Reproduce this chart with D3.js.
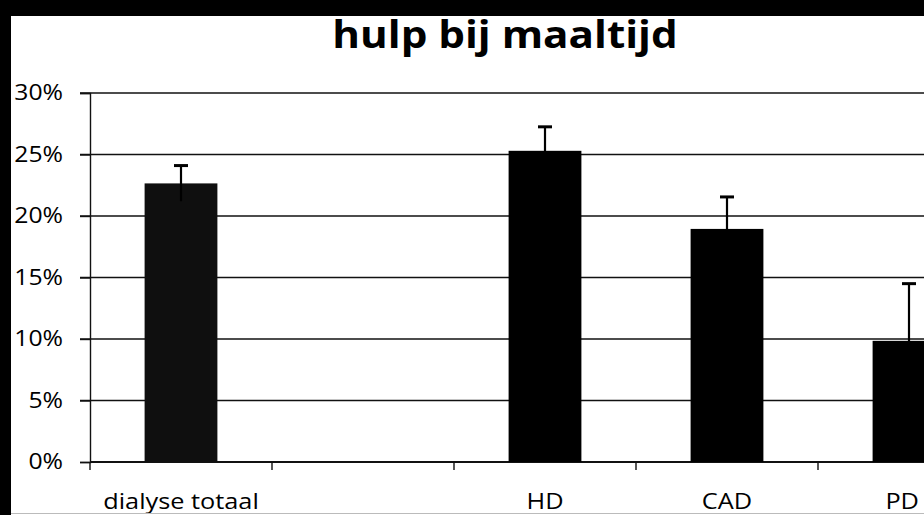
<!DOCTYPE html>
<html>
<head>
<meta charset="utf-8">
<script src="https://cdn.jsdelivr.net/npm/d3@7"></script>
<style>
  html, body { margin: 0; padding: 0; background: #fff; }
  svg { display: block; }
</style>
</head>
<body>
<svg id="chart" width="924" height="515"></svg>
<script>
// chart data
const categories = ["dialyse totaal", "", "HD", "CAD", "PD"];
const values = [22.65, null, 25.3, 18.95, 9.85];   // percent
const errors = [1.45, null, 1.95, 2.6, 4.65];      // + error, percent
const yTicks = [0, 5, 10, 15, 20, 25, 30];
const titleText = "hulp bij maaltijd";

const width = 924;
const height = 515;
const margin = {left: 90, top: 93, bottom: 53};
const plotRight = 1000; // plot runs off the right edge, as in the scan

const svg = d3.select("#chart");

// the scanned text is a bit wider than the font, stretch it
function stretch(sel, k) {
    sel.each(function() {
        const w = this.getComputedTextLength();
        d3.select(this).attr("textLength", w * k).attr("lengthAdjust", "spacingAndGlyphs");
    });
}

svg.append("rect")
    .attr("width", width)
    .attr("height", height)
    .attr("fill", "#fff");

const x = d3.scaleBand()
    .domain(categories)
    .range([margin.left, plotRight])
    .paddingInner(0.6)
    .paddingOuter(0.3);

const y = d3.scaleLinear()
    .domain([0, 30])
    .range([height - margin.bottom, margin.top]);

// gridlines
svg.append("g")
    .selectAll("line")
    .data(yTicks.filter(d => d > 0))
    .join("line")
    .attr("x1", margin.left - 10)
    .attr("x2", plotRight)
    .attr("y1", d => y(d))
    .attr("y2", d => y(d))
    .attr("stroke", "#111")
    .attr("stroke-width", 1.4);

// y axis
const yAxis = svg.append("g")
    .attr("transform", `translate(${margin.left},0)`)
    .call(d3.axisLeft(y).tickValues(yTicks).tickFormat(d => d + "%").tickSize(10).tickPadding(17));
yAxis.select(".domain").attr("stroke", "#111").attr("stroke-width", 1.4);
yAxis.selectAll(".tick line").attr("stroke", "#111").attr("stroke-width", 1.4);
yAxis.selectAll("text")
    .attr("font-family", "'Open Sans', sans-serif")
    .attr("font-size", 21.5)
    .attr("fill", "#000")
    .call(stretch, 1.15);

// x axis: ticks sit on the slot boundaries
const step = x.step();
const boundaries = categories.map(c => x(c) - x.paddingOuter() * step);
svg.append("line")
    .attr("x1", margin.left)
    .attr("x2", plotRight)
    .attr("y1", y(0))
    .attr("y2", y(0))
    .attr("stroke", "#111")
    .attr("stroke-width", 2);
svg.append("g")
    .selectAll("line")
    .data(boundaries)
    .join("line")
    .attr("x1", d => d)
    .attr("x2", d => d)
    .attr("y1", y(0))
    .attr("y2", y(0) + 8)
    .attr("stroke", "#111")
    .attr("stroke-width", 1.4);

const catLabels = svg.append("g")
    .selectAll("text")
    .data(categories)
    .join("text")
    .attr("y", 509)
    .attr("text-anchor", "middle")
    .attr("font-family", "'Open Sans', sans-serif")
    .attr("font-size", 22)
    .attr("fill", "#000")
    .text(d => d);
catLabels.each(function(d) {
    const w = this.getComputedTextLength() * 1.15;
    const cx = Math.min(x(d) + x.bandwidth() / 2, width - 5 - w / 2); // last label kept inside
    d3.select(this)
        .attr("x", cx)
        .attr("textLength", w || null)
        .attr("lengthAdjust", "spacingAndGlyphs");
});

// bars
const barData = categories.map((c, i) => ({cat: c, v: values[i], e: errors[i], i}))
    .filter(d => d.v != null);

svg.append("g")
    .selectAll("rect")
    .data(barData)
    .join("rect")
    .attr("x", d => x(d.cat))
    .attr("y", d => y(d.v))
    .attr("width", x.bandwidth())
    .attr("height", d => y(0) - y(d.v))
    .attr("fill", d => d.i === 0 ? "#0f0f0f" : "#000");

// error bars
const eb = svg.append("g");
eb.selectAll("line.v")
    .data(barData)
    .join("line")
    .attr("class", "v")
    .attr("x1", d => x(d.cat) + x.bandwidth() / 2)
    .attr("x2", d => x(d.cat) + x.bandwidth() / 2)
    .attr("y1", d => y(d.v + d.e))
    .attr("y2", d => y(d.v - d.e))
    .attr("stroke", "#000")
    .attr("stroke-width", 2.2);
eb.selectAll("line.cap")
    .data(barData)
    .join("line")
    .attr("class", "cap")
    .attr("x1", d => x(d.cat) + x.bandwidth() / 2 - 7)
    .attr("x2", d => x(d.cat) + x.bandwidth() / 2 + 7)
    .attr("y1", d => y(d.v + d.e))
    .attr("y2", d => y(d.v + d.e))
    .attr("stroke", "#000")
    .attr("stroke-width", 3);

// title
svg.append("text")
    .attr("x", 505)
    .attr("y", 48)
    .attr("text-anchor", "middle")
    .attr("font-family", "'Open Sans', sans-serif")
    .attr("font-weight", "bold")
    .attr("font-size", 38)
    .attr("fill", "#000")
    .text(titleText)
    .call(stretch, 1.11);

// scan frame: black bands top and left, faint line at the bottom
svg.append("rect").attr("x", 0).attr("y", 0).attr("width", width).attr("height", 16).attr("fill", "#000");
svg.append("rect").attr("x", 0).attr("y", 0).attr("width", 11).attr("height", height).attr("fill", "#000");
svg.append("line")
    .attr("x1", 11).attr("x2", width)
    .attr("y1", 513.5).attr("y2", 513.5)
    .attr("stroke", "#bbb")
    .attr("stroke-width", 1);
</script>
</body>
</html>
